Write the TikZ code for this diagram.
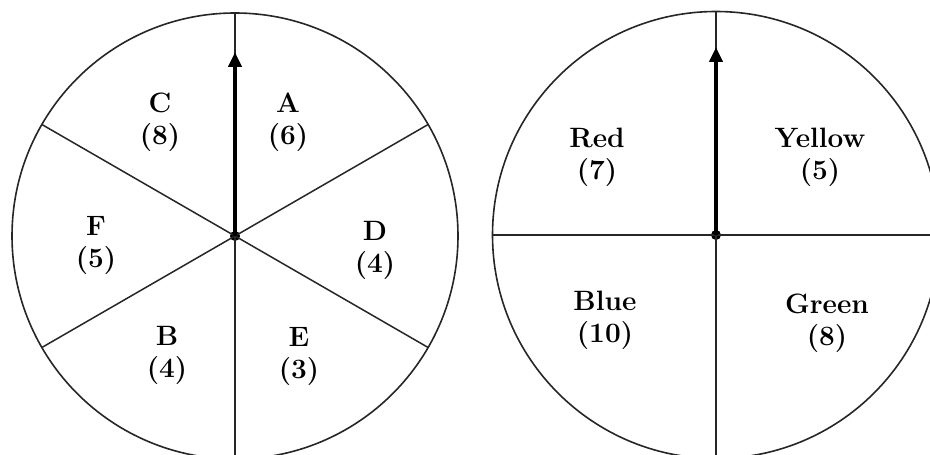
\documentclass[tikz,border=0pt]{standalone}
\usetikzlibrary{arrows.meta,calc}
\begin{document}
\begin{tikzpicture}[x=1pt,y=1pt,
  rim/.style={draw=black!85, line width=1.6pt},
  spoke/.style={draw=black!85, line width=1.5pt},
  pointer/.style={line width=4pt, -{Triangle[width=13pt,length=15pt]}},
  hub/.style={circle, fill=black, inner sep=0pt, minimum size=10pt},
  lbl/.style={align=center, font=\fontsize{28}{32}\selectfont\bfseries, text=black}]
\useasboundingbox (0,0) rectangle (930,455);
% ---------- left spinner ----------
\coordinate (Lc) at (235,219);
\draw[rim] (Lc) circle (223);
\coordinate (L30) at ($(Lc)+(30:223)$);
\coordinate (L90) at ($(Lc)+(90:223)$);
\coordinate (L150) at ($(Lc)+(150:223)$);
\coordinate (L210) at ($(Lc)+(210:223)$);
\coordinate (L270) at ($(Lc)+(270:223)$);
\coordinate (L330) at ($(Lc)+(330:223)$);
\node[hub] (L) at (Lc) {};
\foreach \p in {L30,L90,L150,L210,L270,L330} \draw[spoke] (L.center) -- (\p);
\coordinate (Ltip) at (235,403);
\draw[pointer] (L.center) -- (Ltip);
\node[lbl] (C) at (160,333) {C\\(8)};
\node[lbl] (A) at (288,333) {A\\(6)};
\node[lbl] (F) at (96,210) {F\\(5)};
\node[lbl] (D) at (375,205) {D\\(4)};
\node[lbl] (B) at (167,100) {B\\(4)};
\node[lbl] (E) at (299,99) {E\\(3)};
% ---------- right spinner ----------
\coordinate (Rc) at (716,220);
\draw[rim] (Rc) circle (223.5);
\coordinate (R0) at ($(Rc)+(0:223.5)$);
\coordinate (R90) at ($(Rc)+(90:223.5)$);
\coordinate (R180) at ($(Rc)+(180:223.5)$);
\coordinate (R270) at ($(Rc)+(270:223.5)$);
\node[hub] (R) at (Rc) {};
\foreach \p in {R0,R90,R180,R270} \draw[spoke] (R.center) -- (\p);
\coordinate (Rtip) at (716,408);
\draw[pointer] (R.center) -- (Rtip);
\node[lbl] (Red) at (597,298) {Red\\(7)};
\node[lbl] (Yellow) at (820,298) {Yellow\\(5)};
\node[lbl] (Blue) at (605,135) {Blue\\(10)};
\node[lbl] (Green) at (827,132) {Green\\(8)};
\end{tikzpicture}
\end{document}
